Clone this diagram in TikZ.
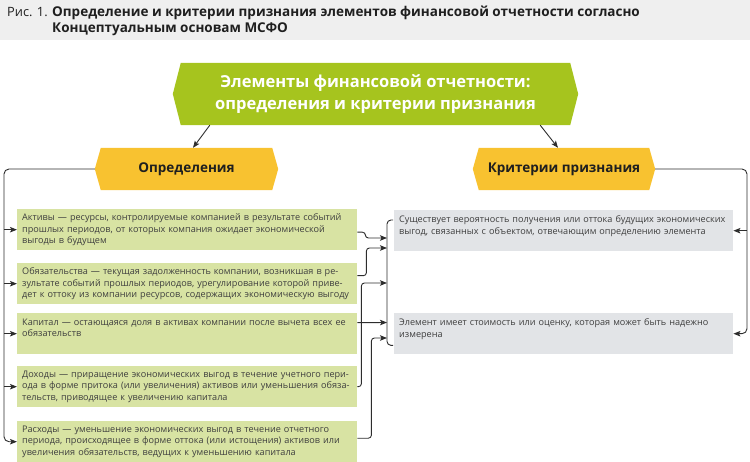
\documentclass[tikz,border=0pt]{standalone}
\usepackage{fontspec}
\setmainfont{Open Sans}
\usetikzlibrary{arrows.meta,backgrounds,calc}
\definecolor{hdrgreen}{RGB}{166,196,30}
\definecolor{gold}{RGB}{248,194,48}
\definecolor{lgreen}{RGB}{216,227,163}
\definecolor{lgray}{RGB}{226,228,231}
\definecolor{titlebg}{RGB}{239,239,239}
\definecolor{txt}{RGB}{62,62,62}
\definecolor{ln}{RGB}{45,45,45}
\newcommand\hexfill[3]{\fill[#1] (#2.west) -- ($(#2.north west)+(#3,0)$) -- ($(#2.north east)+(-#3,0)$) -- (#2.east) -- ($(#2.south east)+(-#3,0)$) -- ($(#2.south west)+(#3,0)$) -- cycle;}
\newcommand\tl[1]{\mbox{#1}}
\begin{document}
\begin{tikzpicture}[x=1pt,y=-1pt,
  line/.style={draw=ln, line width=0.9pt},
  arr/.style={line, -{Stealth[length=7pt,width=5.5pt,inset=1.5pt]}},
  greenbox/.style={fill=lgreen, anchor=north west, inner xsep=5pt, inner ysep=0pt, text width=330pt, minimum height=41pt, align=left, text=txt, font=\fontsize{9.1}{11.5}\selectfont},
  graybox/.style={greenbox, fill=lgray, text width=329pt},
  hexnode/.style={inner sep=0pt, align=center},
  titletext/.style={anchor=base west, inner sep=0pt, text=black!88, font=\fontsize{12.8}{15}\selectfont}]
\useasboundingbox (0,0) rectangle (750,462);
\fill[titlebg] (0,0) rectangle (750,40);
\node[titletext] (fig) at (7,17) {Рис. 1.};
\node[titletext, font=\fontsize{13.5}{15}\selectfont\bfseries] (title1) at (52,17) {Определение и критерии признания элементов финансовой отчетности согласно};
\node[titletext, font=\fontsize{13.5}{15}\selectfont\bfseries] (title2) at (52,32.5) {Концептуальным основам МСФО};

% header and category nodes
\node[hexnode, minimum width=405pt, minimum height=62pt, text=white, font=\fontsize{16.5}{22}\selectfont\bfseries] (hdr) at (375.5,94) {Элементы финансовой отчетности:\\определения и критерии признания};
\node[hexnode, minimum width=183pt, minimum height=42pt, text=black!88, font=\fontsize{13.5}{16}\selectfont\bfseries] (def) at (186.5,169) {Определения};
\node[hexnode, minimum width=182pt, minimum height=42pt, text=black!88, font=\fontsize{13.5}{16}\selectfont\bfseries] (crit) at (564,169) {Критерии признания};
\begin{scope}[on background layer]
\hexfill{hdrgreen}{hdr}{8}
\hexfill{gold}{def}{6}
\hexfill{gold}{crit}{6}
\end{scope}

% definitions
\node[greenbox] (b1) at (17,209) {\tl{Активы — ресурсы, контролируемые компанией в результате событий}\\\tl{прошлых периодов, от которых компания ожидает экономической}\\\tl{выгоды в будущем}};
\node[greenbox] (b2) at (17,263) {\tl{Обязательства — текущая задолженность компании, возникшая в ре-}\\\tl{зультате событий прошлых периодов, урегулирование которой приве-}\\\tl{дет к оттоку из компании ресурсов, содержащих экономическую выгоду}};
\node[greenbox] (b3) at (17,313) {\tl{Капитал — остающаяся доля в активах компании после вычета всех ее}\\\tl{обязательств}\\\mbox{}};
\node[greenbox] (b4) at (17,366) {\tl{Доходы — приращение экономических выгод в течение учетного пери-}\\\tl{ода в форме притока (или увеличения) активов или уменьшения обяза-}\\\tl{тельств, приводящее к увеличению капитала}};
\node[greenbox] (b5) at (17,421) {\tl{Расходы — уменьшение экономических выгод в течение отчетного}\\\tl{периода, происходящее в форме оттока (или истощения) активов или}\\\tl{увеличения обязательств, ведущих к уменьшению капитала}};

% criteria
\node[graybox] (g1) at (394,210) {\tl{Существует вероятность получения или оттока будущих экономических}\\\tl{выгод, связанных с объектом, отвечающим определению элемента}\\\mbox{}};
\node[graybox] (g2) at (394,313) {\tl{Элемент имеет стоимость или оценку, которая может быть надежно}\\\tl{измерена}\\\mbox{}};

% top arrows
\draw[arr] ($(hdr.south west)+(37,0)$) -- ($(def.north)+(6.5,0)$);
\draw[arr] ($(hdr.south east)+(-38,0)$) -- ($(crit.north)+(-6,0)$);

% left trunk
\coordinate (lbus) at (4,169);
\draw[arr, rounded corners=5pt] (def.west) -- (lbus) |- (b5.west);
\draw[arr] (lbus |- b1.west) -- (b1.west);
\draw[arr] (lbus |- b2.west) -- (b2.west);
\draw[arr] (lbus |- b3.west) -- (b3.west);
\draw[arr] (lbus |- b4.west) -- (b4.west);

% bracket of criteria
\coordinate (in1) at (387,238);
\coordinate (in2) at (387,248);
\coordinate (in3) at (387,283);
\coordinate (in4) at (387,322.5);
\coordinate (in5) at (387,338);
\draw[line, rounded corners=4pt] ($(g1.north west)+(-1,10)$) -- ++(-6,0) -- ($(g2.south west)+(-7,-9)$) -- ++(6,0);

\draw[arr, rounded corners=3pt] ($(b1.east)+(0,2.5)$) -- ++(8,0) |- (in1);
\draw[arr, rounded corners=3pt] ($(b2.east)+(0,-8)$) -- ++(9,0) |- (in2);
\draw[arr] ($(b3.east)+(0,-11)$) -- (in4);
\draw[arr, rounded corners=3pt] (b4.east) -- ++(4,0) |- (in3);
\draw[arr, rounded corners=3pt] ($(b5.east)+(0,-3.5)$) -- ++(14,0) |- (in5);

% right trunk
\coordinate (rbus) at (747,169);
\draw[arr, rounded corners=5pt] (crit.east) -- (rbus) |- (g2.east);
\draw[arr] (rbus |- g1.east) -- (g1.east);
\end{tikzpicture}
\end{document}
